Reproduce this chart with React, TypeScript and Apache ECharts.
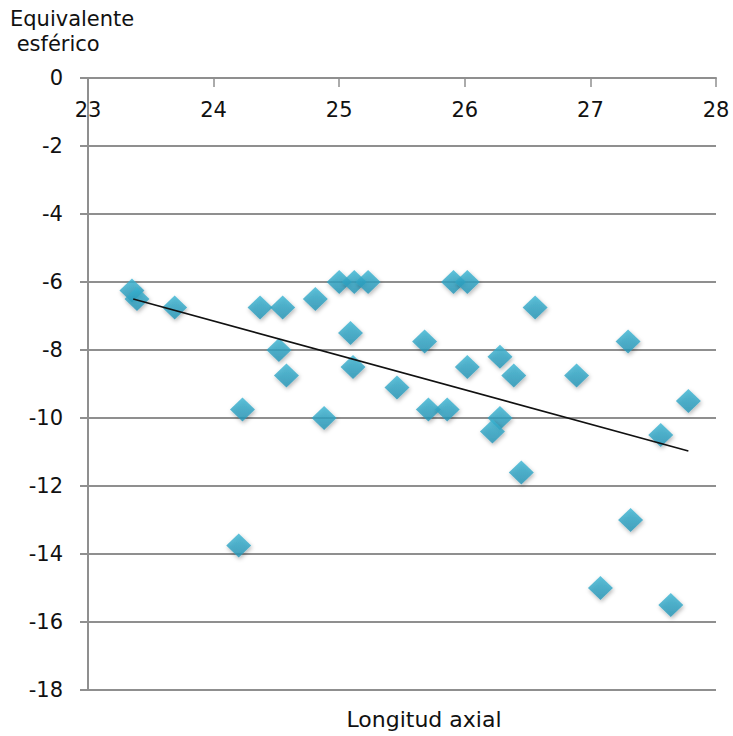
import React, { useEffect, useRef } from "react";
import * as echarts from "echarts";

const axialLength: number[] = [
  23.35, 23.39, 23.69, 24.37, 24.55, 24.81, 25.0, 25.12, 25.23, 25.09,
  24.52, 24.58, 25.11, 24.23, 24.88, 24.2, 25.46, 25.68, 25.71, 25.86,
  25.91, 26.02, 26.02, 26.28, 26.39, 26.28, 26.22, 26.45, 26.56, 26.89,
  27.3, 27.56, 27.78, 27.32, 27.08, 27.64,
];
const sphericalEq: number[] = [
  -6.25, -6.5, -6.75, -6.75, -6.75, -6.5, -6.0, -6.0, -6.0, -7.5,
  -8.0, -8.75, -8.5, -9.75, -10.0, -13.75, -9.1, -7.75, -9.75, -9.75,
  -6.0, -6.0, -8.5, -8.2, -8.75, -10.0, -10.4, -11.6, -6.75, -8.75,
  -7.75, -10.5, -9.5, -13.0, -15.0, -15.5,
];
const trendX: number[] = [23.36, 27.78];
const trendY: number[] = [-6.5, -10.97];

const yTitleLines: string[] = ["Equivalente", " esférico"];
const xTitle = "Longitud axial";

export default function App() {
  const ref = useRef<HTMLDivElement>(null);
  useEffect(() => {
    if (!ref.current) return;
    const chart = echarts.init(ref.current, undefined, { renderer: "svg" });
    const font = "'DejaVu Sans', Verdana, sans-serif";
    const grey = "#8f8f8f";
    chart.setOption({
      animation: false,
      backgroundColor: "#ffffff",
      grid: { left: 88, right: 17, top: 78, bottom: 46, containLabel: false },
      xAxis: {
        type: "value",
        position: "top",
        min: 23,
        max: 28,
        interval: 1,
        axisLine: { show: true, onZero: false, lineStyle: { color: grey, width: 2 } },
        axisTick: { show: true, inside: true, length: 9, lineStyle: { color: grey, width: 1.5 } },
        axisLabel: {
          inside: true,
          margin: 21,
          fontSize: 21,
          color: "#111111",
          fontFamily: font,
        },
        splitLine: { show: false },
      },
      yAxis: {
        type: "value",
        min: -18,
        max: 0,
        interval: 2,
        axisLine: { show: true, lineStyle: { color: grey, width: 2 } },
        axisTick: { show: true, length: 8, lineStyle: { color: grey, width: 2 } },
        axisLabel: {
          margin: 25,
          fontSize: 21,
          color: "#111111",
          fontFamily: font,
        },
        splitLine: { show: true, lineStyle: { color: grey, width: 2 } },
      },
      series: [
        {
          type: "scatter",
          symbol: "diamond",
          symbolSize: [25, 24],
          data: axialLength.map((x, i) => [x, sphericalEq[i]]),
          itemStyle: {
            color: new echarts.graphic.LinearGradient(0, 0, 0, 1, [
              { offset: 0, color: "#3ab5d3" },
              { offset: 1, color: "#2393b5" },
            ]),
            shadowBlur: 4,
            shadowColor: "rgba(0,0,0,0.35)",
            shadowOffsetY: 2,
            shadowOffsetX: 1,
          },
          z: 2,
        },
        {
          type: "line",
          data: trendX.map((x, i) => [x, trendY[i]]),
          showSymbol: false,
          symbol: "none",
          lineStyle: { color: "#111111", width: 1.6 },
          z: 3,
        },
      ],
      graphic: [
        {
          type: "text",
          left: 10,
          top: 6,
          style: {
            text: yTitleLines.join("\n"),
            font: `21px ${font}`,
            fill: "#111111",
            lineHeight: 25,
          },
        },
        {
          type: "text",
          x: 424,
          y: 719,
          style: {
            text: xTitle,
            font: `22px ${font}`,
            fill: "#111111",
            textAlign: "center",
            textVerticalAlign: "middle",
          },
        },
      ],
    });
    return () => chart.dispose();
  }, []);
  return (
    <div
      ref={ref}
      style={{ position: "absolute", left: 0, top: 0, width: 733, height: 736 }}
    />
  );
}
